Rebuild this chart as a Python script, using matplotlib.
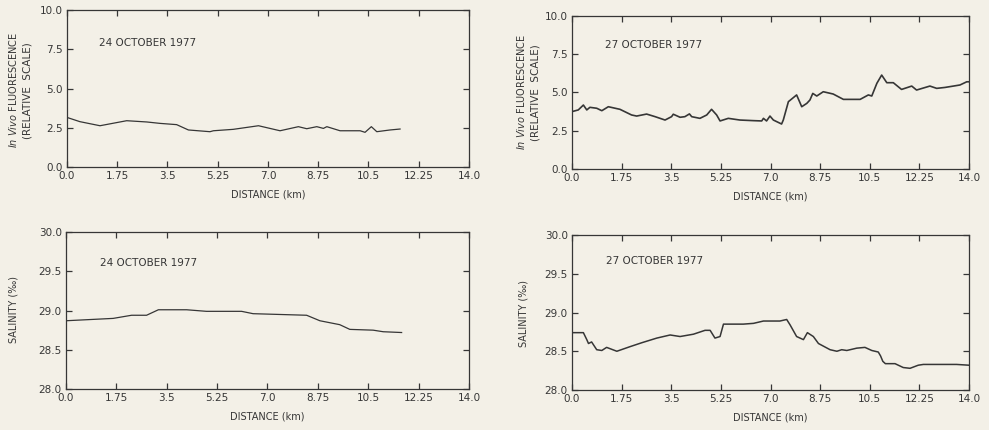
import numpy as np
import matplotlib.pyplot as plt

# fluorescence, 24 october 1977
fl24_km = [0.0, 0.45, 1.15, 2.08, 2.78, 3.24, 3.82, 4.23, 4.98, 5.1, 5.79, 6.67, 7.42,
           8.06, 8.35, 8.7, 8.93, 9.05, 9.51, 10.21, 10.38, 10.6, 10.79, 11.25, 11.6]
fl24 = [3.16, 2.89, 2.63, 2.95, 2.87, 2.78, 2.70, 2.36, 2.25, 2.31, 2.40, 2.63, 2.31,
        2.57, 2.44, 2.57, 2.46, 2.57, 2.31, 2.31, 2.21, 2.57, 2.25, 2.36, 2.42]

# fluorescence, 27 october 1977
fl27_km = [0.0, 0.22, 0.4, 0.52, 0.63, 0.87, 1.05, 1.28, 1.69, 2.1, 2.28, 2.63, 2.93,
           3.28, 3.51, 3.57, 3.81, 3.98, 4.14, 4.22, 4.51, 4.75, 4.92, 5.1, 5.22, 5.51,
           5.92, 6.4, 6.69, 6.75, 6.86, 6.98, 7.1, 7.39, 7.45, 7.63, 7.92, 8.1, 8.28,
           8.39, 8.49, 8.63, 8.86, 9.21, 9.57, 10.16, 10.45, 10.57, 10.75, 10.92, 11.1,
           11.33, 11.62, 11.98, 12.15, 12.62, 12.86, 13.15, 13.45, 13.68, 13.92, 14.0]
fl27 = [3.75, 3.86, 4.18, 3.86, 4.03, 3.97, 3.81, 4.07, 3.90, 3.53, 3.46, 3.59, 3.42,
        3.20, 3.42, 3.58, 3.38, 3.42, 3.60, 3.42, 3.31, 3.53, 3.90, 3.53, 3.14, 3.31,
        3.20, 3.16, 3.14, 3.31, 3.14, 3.46, 3.20, 2.94, 3.20, 4.40, 4.84, 4.07, 4.29,
        4.51, 4.94, 4.77, 5.05, 4.90, 4.55, 4.55, 4.84, 4.77, 5.60, 6.14, 5.64,
        5.64, 5.20, 5.42, 5.16, 5.42, 5.27, 5.33, 5.42, 5.49, 5.70, 5.70]

# salinity, 24 october 1977
sal24_km = [0.0, 1.64, 2.28, 2.8, 3.21, 4.19, 4.88, 6.1, 6.5, 8.36, 8.82, 9.51, 9.86,
            10.67, 11.02, 11.66]
sal24 = [28.87, 28.90, 28.94, 28.94, 29.01, 29.01, 28.99, 28.99, 28.96, 28.94, 28.87,
         28.82, 28.76, 28.75, 28.73, 28.72]

# salinity, 27 october 1977
sal27_km = [0.0, 0.4, 0.52, 0.58, 0.69, 0.87, 1.05, 1.22, 1.58, 2.05, 2.46, 2.99, 3.46,
            3.81, 4.28, 4.69, 4.87, 5.04, 5.22, 5.34, 6.04, 6.4, 6.75, 7.33, 7.57, 7.69,
            7.92, 8.16, 8.3, 8.51, 8.69, 9.1, 9.34, 9.51, 9.69, 10.04, 10.33, 10.57, 10.8,
            10.88, 10.96, 11.05, 11.39, 11.68, 11.92, 12.21, 12.39, 13.56, 14.0]
sal27 = [28.74, 28.74, 28.65, 28.60, 28.62, 28.52, 28.51, 28.55, 28.50, 28.56, 28.61,
         28.67, 28.71, 28.69, 28.72, 28.77, 28.77, 28.67, 28.69, 28.85, 28.85, 28.86,
         28.89, 28.89, 28.91, 28.84, 28.69, 28.65, 28.74, 28.69, 28.60, 28.52, 28.50,
         28.52, 28.51, 28.54, 28.55, 28.51, 28.49, 28.44, 28.37, 28.34, 28.34, 28.29,
         28.28, 28.32, 28.33, 28.33, 28.32]

x_ticks = [0.0, 1.75, 3.5, 5.25, 7.0, 8.75, 10.5, 12.25, 14.0]
x_ticklabels = ['0.0', '1.75', '3.5', '5.25', '7.0', '8.75', '10.5', '12.25', '14.0']
fl_ticks = [0.0, 2.5, 5.0, 7.5, 10.0]
sal_ticks = [28.0, 28.5, 29.0, 29.5, 30.0]

bg = '#f3f0e7'
ink = '#363636'
plt.rcParams['font.family'] = ['DejaVu Sans']

fig = plt.figure(figsize=(9.89, 4.30), dpi=100, facecolor=bg)

panels = [
    ([0.0677, 0.6116, 0.4065, 0.365], fl24_km, fl24, fl_ticks, '24 OCTOBER 1977', 0.08, 0.79, 0.9),
    ([0.5784, 0.6070, 0.4014, 0.3558], fl27_km, fl27, fl_ticks, '27 OCTOBER 1977', 0.083, 0.81, 1.2),
    ([0.0667, 0.0953, 0.4075, 0.365], sal24_km, sal24, sal_ticks, '24 OCTOBER 1977', 0.084, 0.80, 0.9),
    ([0.5784, 0.0930, 0.4014, 0.3605], sal27_km, sal27, sal_ticks, '27 OCTOBER 1977', 0.086, 0.83, 1.1),
]

for rect, xs, ys, yt, date, tx, ty, lw in panels:
    ax = fig.add_axes(rect)
    ax.set_facecolor(bg)
    ax.plot(xs, ys, color=ink, lw=lw)
    ax.set_xlim(0, 14)
    ax.set_ylim(yt[0], yt[-1])
    ax.set_xticks(x_ticks)
    ax.set_xticklabels(x_ticklabels)
    ax.set_yticks(yt)
    ax.set_yticklabels(['%.1f' % v for v in yt])
    ax.tick_params(direction='in', top=True, right=True, length=4, width=0.9,
                   labelsize=7.5, colors=ink, pad=3)
    for s in ax.spines.values():
        s.set_color(ink)
        s.set_linewidth(0.9)
    ax.set_xlabel('DISTANCE (km)', fontsize=7, color=ink, labelpad=6)
    ax.text(tx, ty, date, transform=ax.transAxes, fontsize=7.5, color=ink, va='center')

# y axis titles
fig.text(0.013, 0.79, r'$\it{In\ Vivo}$ FLUORESCENCE', rotation=90, fontsize=7,
         color=ink, ha='center', va='center')
fig.text(0.028, 0.79, '(RELATIVE  SCALE)', rotation=90, fontsize=7.5,
         color=ink, ha='center', va='center')
fig.text(0.527, 0.785, r'$\it{In\ Vivo}$ FLUORESCENCE', rotation=90, fontsize=7,
         color=ink, ha='center', va='center')
fig.text(0.541, 0.785, '(RELATIVE  SCALE)', rotation=90, fontsize=7.5,
         color=ink, ha='center', va='center')
fig.text(0.014, 0.28, 'SALINITY (‰)', rotation=90, fontsize=7,
         color=ink, ha='center', va='center')
fig.text(0.529, 0.27, 'SALINITY (‰)', rotation=90, fontsize=7,
         color=ink, ha='center', va='center')

fig.savefig('out.png', dpi=100, facecolor=bg)
